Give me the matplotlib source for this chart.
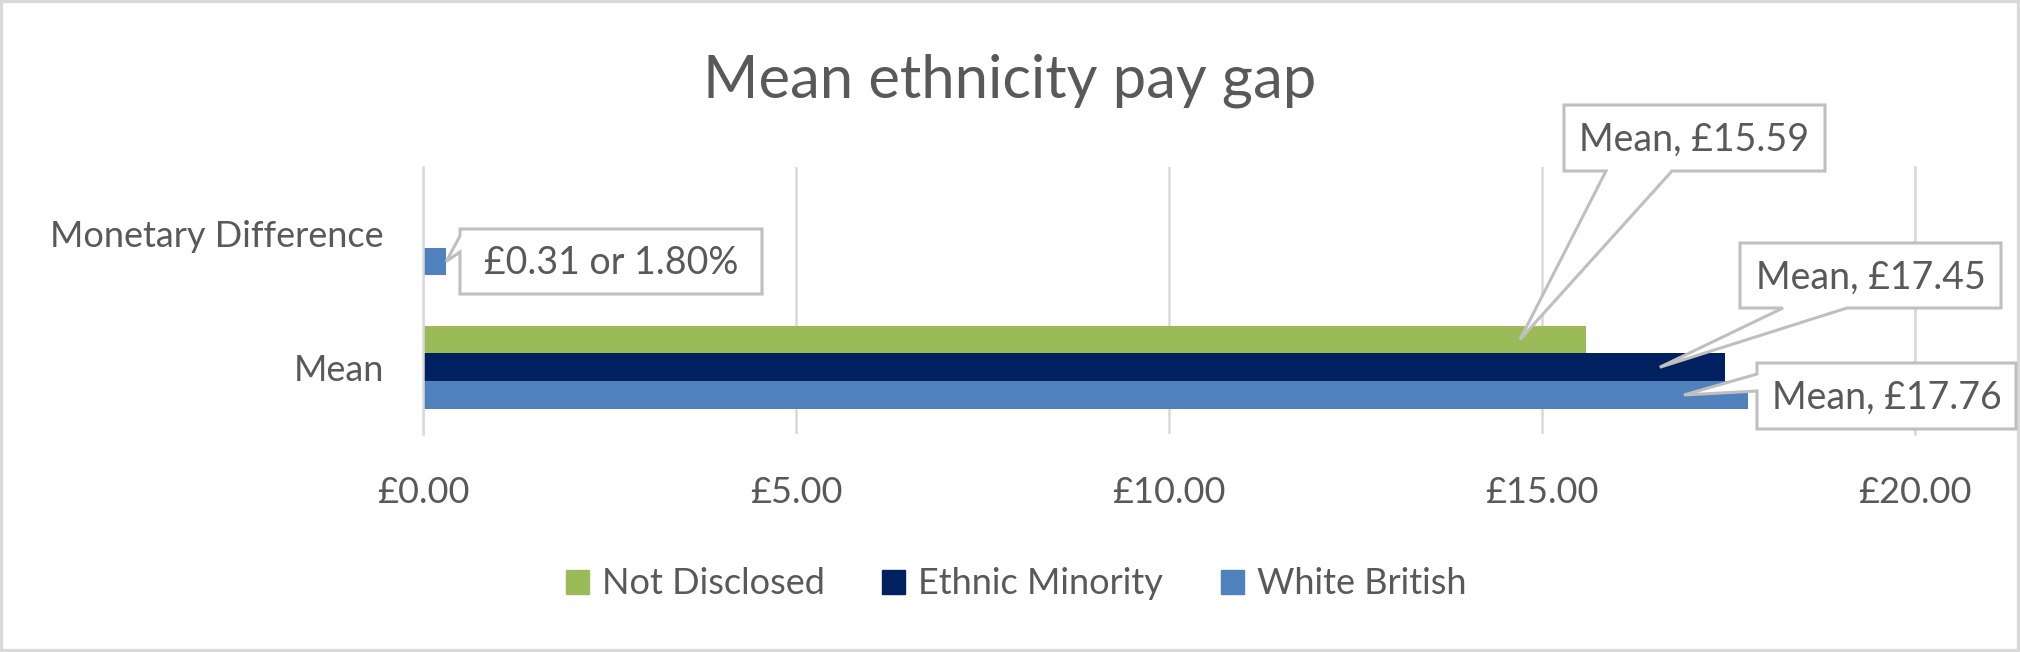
import numpy as np
import matplotlib.pyplot as plt
from matplotlib.patches import Polygon, Rectangle, Patch
from matplotlib.transforms import IdentityTransform

plt.rcParams['font.family'] = ['Lato', 'DejaVu Sans']

# data
categories = ['Mean', 'Monetary Difference']
series_names = ['Not Disclosed', 'Ethnic Minority', 'White British']
white_british = [17.76, 0.31]
ethnic_minority = [17.45, 0.0]
not_disclosed = [15.59, 0.0]
gap_percent = 1.80
x_ticks = [0, 5, 10, 15, 20]
x_tick_labels = ['£0.00', '£5.00', '£10.00', '£15.00', '£20.00']

green = '#9BBB59'
navy = '#002060'
blue = '#4F81BD'
text_col = '#595959'
grid_col = '#D9D9D9'
box_col = '#BFBFBF'

W, H = 2020, 652
fig = plt.figure(figsize=(W / 100, H / 100), dpi=100)
ax = fig.add_axes([423 / W, 1 - 434 / H, 1492 / W, 267 / H])

y = np.arange(len(categories))
h = 0.208
ax.barh(y - h, white_british, h, color=blue, zorder=2)
ax.barh(y, ethnic_minority, h, color=navy, zorder=2)
ax.barh(y + h, not_disclosed, h, color=green, zorder=2)

ax.set_xlim(0, 20)
ax.set_ylim(-0.5, 1.5)
ax.set_xticks(x_ticks)
ax.set_xticklabels(x_tick_labels)
ax.set_yticks(y)
ax.set_yticklabels(categories)
ax.tick_params(axis='both', length=0, labelsize=26, colors=text_col)
ax.tick_params(axis='x', pad=30)
ax.tick_params(axis='y', pad=28)
ax.grid(axis='x', color=grid_col, linewidth=1.8)
ax.set_axisbelow(True)
for s in ['top', 'bottom']:
    ax.spines[s].set_visible(False)
for s in ['left', 'right']:
    ax.spines[s].set_color(grid_col)
    ax.spines[s].set_linewidth(1.8)

fig.text(0.5, 1 - 97 / H, 'Mean ethnicity pay gap', ha='center', va='baseline',
         fontsize=43, color=text_col)


def callout(value, ypos, shift, label, box, side, w0, w1):
    tx, ty = ax.transData.transform((value, ypos))
    tip = (tx + shift, ty)
    x0, y0, x1, y1 = box
    top, bot = H - y0, H - y1
    if side == 'bottom':
        pts = [(x0, top), (x1, top), (x1, bot), (w1, bot), tip, (w0, bot), (x0, bot)]
    else:
        pts = [(x0, top), (x1, top), (x1, bot), (x0, bot), (x0, H - w1), tip, (x0, H - w0)]
    fig.add_artist(Polygon(pts, closed=True, facecolor='white', edgecolor=box_col,
                           linewidth=2.2, joinstyle='miter', transform=IdentityTransform(),
                           zorder=5))
    cx = (x0 + x1) / 2
    cy = (y0 + y1) / 2 + 13
    fig.text(cx / W, 1 - cy / H, label, ha='center', va='baseline', fontsize=27,
             color=text_col, zorder=6)


callout(white_british[1], y[1] - h, 0, '£%.2f or %.2f%%' % (white_british[1], gap_percent),
        (460, 229, 762, 294), 'left', 236, 252)
callout(not_disclosed[0], y[0] + h, -66, '%s, £%.2f' % (categories[0], not_disclosed[0]),
        (1564, 105, 1825, 171), 'bottom', 1606, 1672)
callout(ethnic_minority[0], y[0], -65, '%s, £%.2f' % (categories[0], ethnic_minority[0]),
        (1740, 243, 2001, 308), 'bottom', 1783, 1847)
callout(white_british[0], y[0] - h, -64, '%s, £%.2f' % (categories[0], white_british[0]),
        (1757, 363, 2016, 429), 'left', 374, 391)

handles = [Patch(color=c) for c in [green, navy, blue]]
fig.legend(handles, series_names, loc='center', bbox_to_anchor=(1016 / W, 1 - 584 / H),
           ncol=3, frameon=False, fontsize=26, labelcolor=text_col,
           handlelength=0.64, handleheight=0.64, handletextpad=0.35, columnspacing=1.6)

fig.add_artist(Rectangle((0, 0), 1, 1, transform=fig.transFigure, fill=False,
                         edgecolor=grid_col, linewidth=4.5))

fig.savefig('out.png', dpi=100)
